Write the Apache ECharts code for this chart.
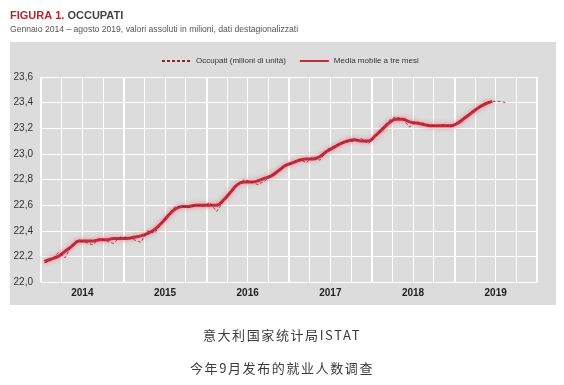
<!DOCTYPE html>
<html>
<head>
<meta charset="utf-8">
<script src="https://cdn.jsdelivr.net/npm/echarts@6/dist/echarts.min.js"></script>
<style>
html,body{margin:0;padding:0;background:#fff;}
#wrap{position:relative;width:564px;height:385px;}
#panel{position:absolute;left:10px;top:42px;width:546px;height:263px;background:#dcdcdc;}
#chart{position:absolute;left:0;top:0;width:564px;height:385px;}
.cap{position:absolute;left:0;width:564px;text-align:center;font-family:"Noto Sans CJK SC",sans-serif;font-size:13px;letter-spacing:1.6px;color:#3a3a3a;line-height:16px;}
</style>
</head>
<body>
<div id="wrap"><div id="panel"></div><div id="chart"></div>
<div class="cap" style="top:327px">意大利国家统计局ISTAT</div>
<div class="cap" style="top:360px">今年9月发布的就业人数调查</div>
</div>
<script>
// Month index 0 = gennaio 2014
var years = ['2014', '2015', '2016', '2017', '2018', '2019'];
var yTicks = [22.0, 22.2, 22.4, 22.6, 22.8, 23.0, 23.2, 23.4, 23.6];

// Occupati (milioni di unità), gen 2014 – ago 2019
var occupati = [
  22.15, 22.17, 22.23, 22.19, 22.29, 22.32, 22.31, 22.29, 22.34, 22.32, 22.30, 22.35,
  22.35, 22.33, 22.31, 22.40, 22.38, 22.46, 22.53, 22.59, 22.59, 22.58, 22.60, 22.59,
  22.62, 22.55, 22.63, 22.70, 22.76, 22.80, 22.78, 22.76, 22.79, 22.83, 22.87, 22.91,
  22.93, 22.96, 22.93, 22.98, 22.95, 23.03, 23.06, 23.08, 23.10, 23.10, 23.12, 23.08,
  23.13, 23.20, 23.26, 23.29, 23.27, 23.21, 23.25, 23.24, 23.22, 23.22, 23.23, 23.21,
  23.25, 23.28, 23.33, 23.36, 23.40, 23.41, 23.41, 23.40
];

// Media mobile a tre mesi
var mediaMobile = [
  22.16, 22.18, 22.20, 22.24, 22.28, 22.32, 22.32, 22.32, 22.33, 22.33, 22.34, 22.34,
  22.34, 22.35, 22.36, 22.38, 22.41, 22.46, 22.52, 22.57, 22.59, 22.59, 22.60, 22.60,
  22.60, 22.60, 22.64, 22.70, 22.76, 22.78, 22.78, 22.79, 22.81, 22.83, 22.87, 22.91,
  22.93, 22.95, 22.96, 22.96, 22.98, 23.02, 23.05, 23.08, 23.10, 23.11, 23.10, 23.10,
  23.14, 23.19, 23.24, 23.27, 23.27, 23.25, 23.24, 23.23, 23.22, 23.22, 23.22, 23.22,
  23.24, 23.28, 23.32, 23.36, 23.39, 23.41
];

var narrow = '"Liberation Sans Narrow","Liberation Sans",Arial,sans-serif';

function toPairs(arr) {
  return arr.map(function (v, i) { return [i + 0.5, v]; });
}

var chart = echarts.init(document.getElementById('chart'), null, {renderer: 'canvas'});
chart.setOption({
  backgroundColor: 'transparent',
  animation: false,
  title: [
    {
      text: '{a|FIGURA 1.}{b| OCCUPATI}',
      left: 5, top: 5,
      textStyle: {
        rich: {
          a: {fontFamily: narrow, fontSize: 11, fontWeight: 'bold', color: '#b5272d'},
          b: {fontFamily: narrow, fontSize: 11, fontWeight: 'bold', color: '#444'}
        }
      }
    },
    {
      text: 'Gennaio 2014 – agosto 2019, valori assoluti in milioni, dati destagionalizzati',
      left: 5, top: 20,
      textStyle: {fontFamily: narrow, fontSize: 8.6, fontWeight: 'normal', color: '#555'}
    }
  ],
  legend: {
    left: 156, top: 52,
    itemWidth: 29, itemHeight: 10, itemGap: 13,
    itemStyle: {opacity: 0},
    textStyle: {fontFamily: narrow, fontSize: 8, color: '#333'},
    data: ['Occupati (milioni di unità)', 'Media mobile a tre mesi']
  },
  grid: {left: 41, right: 27, top: 77, bottom: 103, containLabel: false},
  xAxis: [
    {
      type: 'value', min: 0, max: 72, interval: 3,
      axisLine: {show: false}, axisTick: {show: false},
      axisLabel: {
        margin: 6, fontFamily: narrow, fontSize: 10, fontWeight: 'bold', color: '#222',
        formatter: function (v) { return (v % 12 === 6) ? years[(v - 6) / 12] : ''; }
      },
      splitLine: {show: true, lineStyle: {color: '#ffffff', width: 1}}
    },
    {
      type: 'value', min: 0, max: 72, interval: 12, position: 'bottom',
      axisLine: {show: false}, axisTick: {show: false}, axisLabel: {show: false},
      splitLine: {show: true, lineStyle: {color: '#ffffff', width: 2}}
    }
  ],
  yAxis: {
    type: 'value', min: yTicks[0], max: yTicks[yTicks.length - 1], interval: 0.2,
    axisLine: {show: false}, axisTick: {show: false},
    axisLabel: {
      margin: 8, fontFamily: narrow, fontSize: 10, color: '#333',
      formatter: function (v) { return v.toFixed(1).replace('.', ','); }
    },
    splitLine: {show: true, lineStyle: {color: '#ffffff', width: 1}}
  },
  series: [
    {
      name: 'Media mobile a tre mesi',
      type: 'line', xAxisIndex: 0, data: toPairs(mediaMobile),
      symbol: 'none', smooth: 0.4, z: 3,
      lineStyle: {color: '#c42a3c', width: 3, shadowBlur: 5, shadowColor: 'rgba(240,110,125,0.9)'},
      itemStyle: {color: '#c42a3c'}
    },
    {
      name: 'Occupati (milioni di unità)',
      type: 'line', xAxisIndex: 0, data: toPairs(occupati),
      symbol: 'none', smooth: false, z: 4,
      lineStyle: {color: '#8a2230', width: 0.8, type: [3, 2]},
      itemStyle: {color: '#8a2230'}
    }
  ]
});
</script>
</body>
</html>
